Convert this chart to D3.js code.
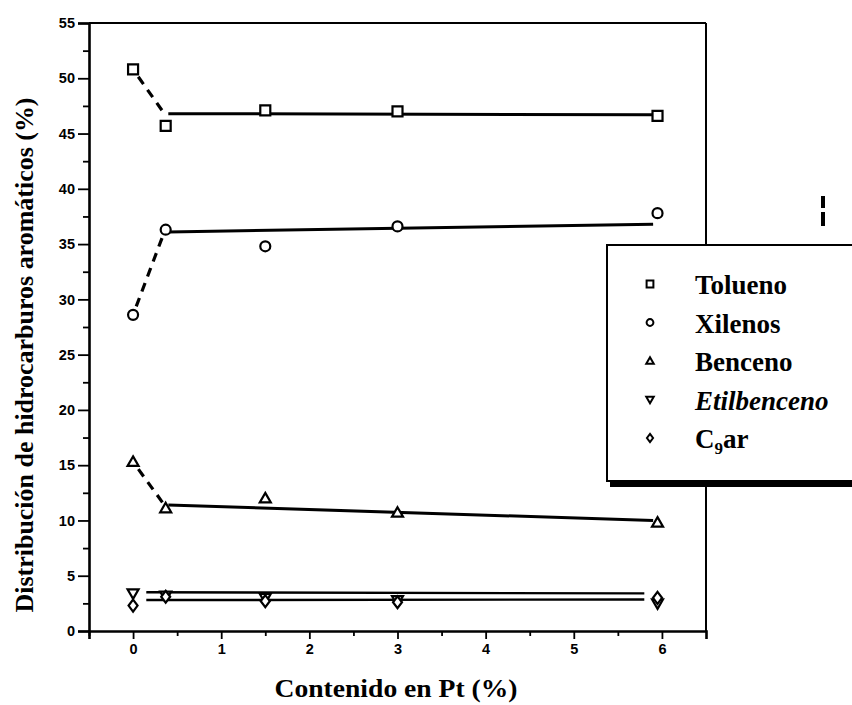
<!DOCTYPE html>
<html><head><meta charset="utf-8">
<script src="https://cdn.jsdelivr.net/npm/d3@7/dist/d3.min.js"></script>
<style>body{margin:0;background:#fff}svg{display:block}</style>
</head><body>
<svg id="c" width="852" height="705"></svg>
<script>
const xValues = [0, 0.37, 1.5, 3, 5.95];
const seriesNames = ["Tolueno", "Xilenos", "Benceno", "Etilbenceno", "C9ar"];
const tolueno = [50.8, 45.7, 47.1, 47.0, 46.6];
const xilenos = [28.6, 36.3, 34.8, 36.6, 37.8];
const benceno = [15.3, 11.1, 12.0, 10.7, 9.8];
const etilbenceno = [3.4, 3.2, 3.0, 2.8, 2.5];
const c9ar = [2.3, 3.1, 2.7, 2.6, 3.0];
// linear fits (x0, y0, x1, y1) for each series
const fitX = [[0.4, 5.9], [0.4, 5.9], [0.4, 5.9], [0.15, 5.8], [0.15, 5.8]];
const fitY = [[46.8, 46.7], [36.1, 36.8], [11.4, 10.0], [3.5, 3.4], [2.8, 2.85]];
const xTicks = [0, 1, 2, 3, 4, 5, 6];
const yTicks = [0, 5, 10, 15, 20, 25, 30, 35, 40, 45, 50, 55];

const data = [tolueno, xilenos, benceno, etilbenceno, c9ar];
const shapes = ["square", "circle", "up", "down", "diamond"];

const svg = d3.select("#c");
const x = d3.scaleLinear().domain([-0.5, 6.5]).range([89, 706]);
const y = d3.scaleLinear().domain([0, 55]).range([631, 23]);

function symPath(s, r) {
  if (s === "square") return `M${-r},${-r}H${r}V${r}H${-r}Z`;
  if (s === "circle") return d3.symbol(d3.symbolCircle, Math.PI * r * r)();
  if (s === "up") return `M0,${-r * 1.1}L${r * 1.1},${r * 0.8}L${-r * 1.1},${r * 0.8}Z`;
  if (s === "down") return `M0,${r * 1.1}L${r * 1.1},${-r * 0.8}L${-r * 1.1},${-r * 0.8}Z`;
  if (s === "diamond") return `M0,${-r * 1.2}L${r * 0.9},0L0,${r * 1.2}L${-r * 0.9},0Z`;
}

// frame top and right
svg.append("line").attr("x1", x(-0.5)).attr("x2", x(6.5)).attr("y1", y(55)).attr("y2", y(55))
  .attr("stroke", "#000").attr("stroke-width", 2.2);
svg.append("line").attr("x1", x(6.5)).attr("x2", x(6.5)).attr("y1", y(55)).attr("y2", y(0))
  .attr("stroke", "#000").attr("stroke-width", 2);

// axes
const yAxis = svg.append("g").attr("transform", `translate(${x(-0.5)},0)`)
  .call(d3.axisLeft(y).tickValues(yTicks).tickSize(11).tickPadding(3));
const yMinor = svg.append("g").attr("transform", `translate(${x(-0.5)},0)`)
  .call(d3.axisLeft(y).tickValues(yTicks.slice(0, -1).map(v => v + 2.5)).tickSize(6).tickFormat(""));
const xAxis = svg.append("g").attr("transform", `translate(0,${y(0)})`)
  .call(d3.axisBottom(x).tickValues(xTicks).tickSize(8).tickPadding(5).tickFormat(d3.format("d")));
const xMinor = svg.append("g").attr("transform", `translate(0,${y(0)})`)
  .call(d3.axisBottom(x).tickValues([-0.5, 0.5, 1.5, 2.5, 3.5, 4.5, 5.5]).tickSize(5).tickFormat(""));
[yAxis, yMinor, xAxis, xMinor].forEach(g => {
  g.select(".domain").attr("stroke", "#000").attr("stroke-width", 2.6);
  g.selectAll(".tick line").attr("stroke", "#000").attr("stroke-width", 1.8);
  g.selectAll("text").attr("font-family", "Liberation Sans, Arial, sans-serif")
    .attr("font-size", 14.5).attr("font-weight", 600).attr("fill", "#000");
});
yMinor.select(".domain").remove();
xMinor.select(".domain").remove();

// fit lines & dashed connectors
data.forEach((d, i) => {
  svg.append("line")
    .attr("x1", x(fitX[i][0])).attr("y1", y(fitY[i][0]))
    .attr("x2", x(fitX[i][1])).attr("y2", y(fitY[i][1]))
    .attr("stroke", "#000").attr("stroke-width", i < 3 ? 3 : 2.4);
  if (i < 3) {
    const x0 = x(xValues[0]), y0 = y(d[0]), x1 = x(fitX[i][0]) - 4, y1 = y(fitY[i][0]);
    const len = Math.hypot(x1 - x0, y1 - y0);
    const ux = (x1 - x0) / len, uy = (y1 - y0) / len;
    svg.append("line")
      .attr("x1", x0 + ux * 9).attr("y1", y0 + uy * 9)
      .attr("x2", x1).attr("y2", y1)
      .attr("stroke", "#000").attr("stroke-width", 3.2)
      .attr("stroke-dasharray", "9,7");
  }
});

// markers
data.forEach((d, i) => {
  svg.append("g").selectAll("path").data(d).join("path")
    .attr("transform", (v, j) => `translate(${x(xValues[j])},${y(v)})`)
    .attr("d", symPath(shapes[i], 5))
    .attr("fill", "#fff").attr("stroke", "#000").attr("stroke-width", 2.2);
});

// legend
const lg = svg.append("g");
lg.append("rect").attr("x", 607).attr("y", 245).attr("width", 270).attr("height", 236)
  .attr("fill", "#fff").attr("stroke", "#000").attr("stroke-width", 2);
lg.append("rect").attr("x", 610).attr("y", 480).attr("width", 270).attr("height", 7).attr("fill", "#000");
seriesNames.forEach((n, i) => {
  const yy = 284 + i * 38.5;
  lg.append("path").attr("transform", `translate(650,${yy})`).attr("d", symPath(shapes[i], 3.4))
    .attr("fill", "#fff").attr("stroke", "#000").attr("stroke-width", 2);
  const t = lg.append("text").attr("x", 695).attr("y", yy + 10)
    .attr("font-family", "Liberation Serif, Times New Roman, serif")
    .attr("font-weight", "bold").attr("font-size", 27).attr("fill", "#000");
  if (n === "C9ar") {
    t.append("tspan").text("C");
    t.append("tspan").attr("font-size", 17).attr("dy", 6).text("9");
    t.append("tspan").attr("dy", -6).text("ar");
  } else {
    t.text(n);
    if (n === "Etilbenceno") t.attr("font-style", "italic");
  }
});

// axis titles
svg.append("text").attr("x", 396).attr("y", 697).attr("text-anchor", "middle")
  .attr("font-family", "Liberation Serif, Times New Roman, serif").attr("font-weight", "bold")
  .attr("font-size", 26).attr("textLength", 243).attr("lengthAdjust", "spacingAndGlyphs")
  .text("Contenido en Pt (%)");
svg.append("text").attr("transform", "translate(33,355) rotate(-90)").attr("text-anchor", "middle")
  .attr("font-family", "Liberation Serif, Times New Roman, serif").attr("font-weight", "bold")
  .attr("font-size", 26).attr("textLength", 515).attr("lengthAdjust", "spacingAndGlyphs")
  .text("Distribución de hidrocarburos aromáticos (%)");

// scan marks at right edge
svg.append("rect").attr("x", 821).attr("y", 196).attr("width", 4).attr("height", 12).attr("fill", "#000");
svg.append("rect").attr("x", 821).attr("y", 212).attr("width", 4).attr("height", 14).attr("fill", "#000");
</script>
</body></html>
